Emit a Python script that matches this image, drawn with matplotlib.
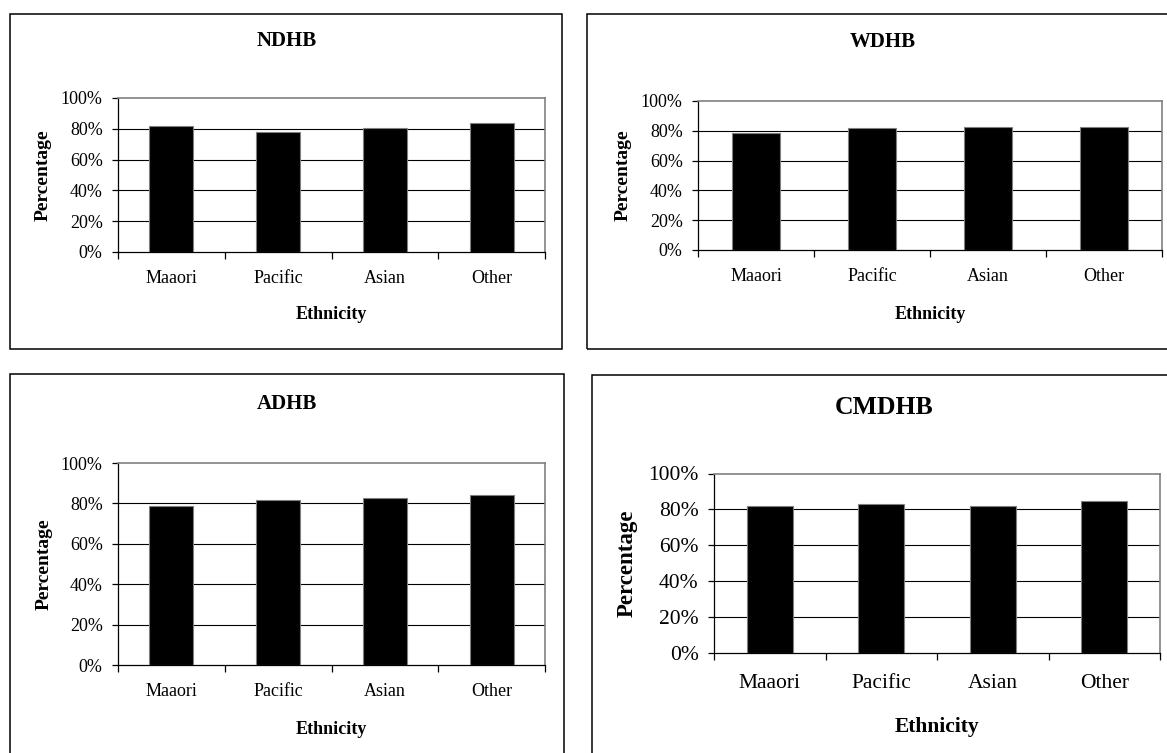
import numpy as np
import matplotlib
matplotlib.use('Agg')
import matplotlib.pyplot as plt
from matplotlib.patches import Rectangle
from matplotlib.ticker import FixedLocator, PercentFormatter

plt.rcParams['font.family'] = ['Liberation Serif', 'DejaVu Serif']

# data (percent)
ethnicity = ['Maaori', 'Pacific', 'Asian', 'Other']
ndhb = [81.8, 77.7, 80.7, 83.8]
wdhb = [78.3, 81.8, 82.6, 82.4]
adhb = [78.8, 81.8, 82.5, 84.0]
cmdhb = [82.0, 83.0, 82.0, 84.8]
yticks = [0, 20, 40, 60, 80, 100]

W, H = 1167, 753
fig = plt.figure(figsize=(W / 100, H / 100), dpi=100)


def fx(x):
    return x / W


def fy(y):
    return 1 - y / H


def panel(title, values, plot_box, frame, title_xy, xlab_y, ylab_x, big=False):
    x0, y0, x1, y1 = plot_box
    ax = fig.add_axes([fx(x0), fy(y1), (x1 - x0) / W, (y1 - y0) / H])
    tick_fs = 15.5 if big else 13
    lab_fs = 16.5 if big else 14
    title_fs = 18.5 if big else 15

    pos = np.arange(len(ethnicity))
    ax.bar(pos, values, width=0.41, color='black', edgecolor='#808080',
           linewidth=0.8, zorder=3)
    ax.set_xlim(-0.5, len(ethnicity) - 0.5)
    ax.set_ylim(0, 100)

    ax.set_yticks(yticks)
    ax.yaxis.set_major_formatter(PercentFormatter(decimals=0))
    for v in yticks[1:-1]:
        ax.axhline(v, color='black', linewidth=0.8, zorder=1)

    ax.set_xticks(pos)
    ax.set_xticklabels(ethnicity)
    ax.xaxis.set_minor_locator(FixedLocator(np.arange(-0.5, len(ethnicity), 1.0)))
    ax.tick_params(axis='x', which='major', length=0, pad=15 if big else 13,
                   labelsize=tick_fs)
    ax.tick_params(axis='x', which='minor', length=5, width=0.9, direction='out')
    ax.tick_params(axis='y', length=4, width=0.9, direction='out', pad=7,
                   labelsize=tick_fs)

    for s in ['left', 'bottom']:
        ax.spines[s].set_color('black')
        ax.spines[s].set_linewidth(0.9)
    for s in ['top', 'right']:
        ax.spines[s].set_color('#808080')
        ax.spines[s].set_linewidth(1.2)

    # outer frame of each chart
    fl, ft, fr, fb = frame
    fig.add_artist(Rectangle((fx(fl), fy(fb)), (fr - fl) / W, (fb - ft) / H,
                             transform=fig.transFigure, fill=False,
                             edgecolor='black', linewidth=1.1, clip_on=False))

    fig.text(fx(title_xy[0]), fy(title_xy[1]), title, ha='center', va='baseline',
             fontsize=title_fs, fontweight='bold')
    fig.text(fx((x0 + x1) / 2), fy(xlab_y), 'Ethnicity', ha='center',
             va='center', fontsize=lab_fs - 1, fontweight='bold')
    fig.text(fx(ylab_x), fy((y0 + y1) / 2), 'Percentage', ha='center',
             va='center', rotation=90, fontsize=lab_fs, fontweight='bold')
    return ax


panel('NDHB', ndhb, (118, 98, 545, 252), (10, 14, 562, 349), (287, 46), 314, 43)
panel('WDHB', wdhb, (698, 101, 1162, 250), (587, 14, 1175, 349), (883, 47), 314, 623)
panel('ADHB', adhb, (118, 463, 545, 665), (10, 374, 564, 770), (287, 409), 729, 44)
panel('CMDHB', cmdhb, (714, 473.5, 1160, 652.7), (592, 375, 1175, 770), (884, 414),
      727, 627, big=True)

fig.savefig('out.png', dpi=100)
